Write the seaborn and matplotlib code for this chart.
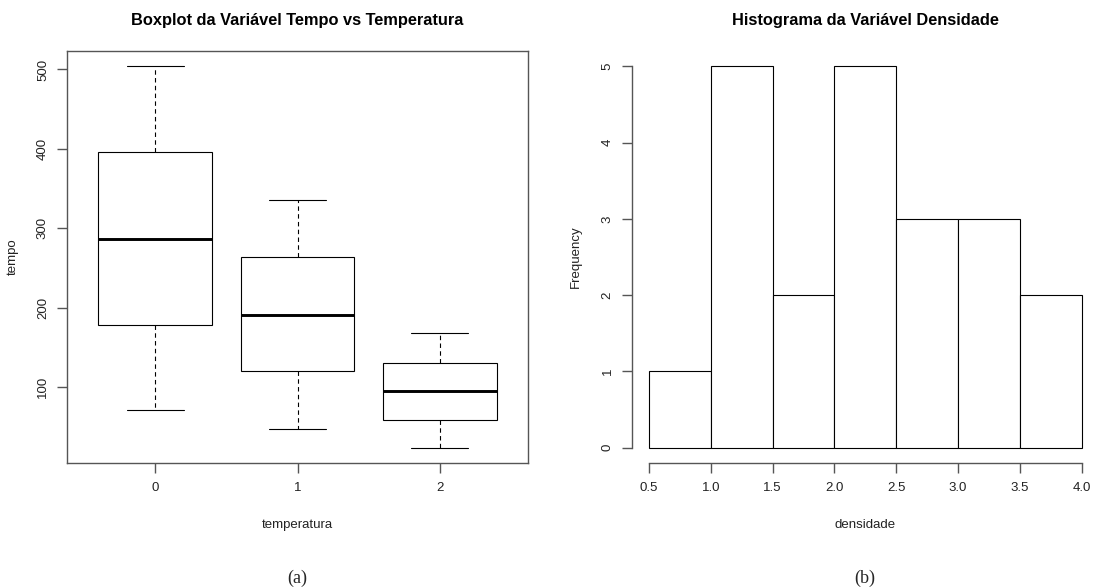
import numpy as np
import pandas as pd
import matplotlib
matplotlib.use("Agg")
import matplotlib.pyplot as plt
import seaborn as sns

# ---- data ----
temperatura_levels = ["0", "1", "2"]
tempo_temp0 = [72, 179, 287, 396, 504]
tempo_temp1 = [47, 120, 191, 264, 336]
tempo_temp2 = [24, 59, 95, 131, 168]

densidade_edges = [0.5, 1.0, 1.5, 2.0, 2.5, 3.0, 3.5, 4.0]
densidade_counts = [1, 5, 2, 5, 3, 3, 2]

box_yticks = [100, 200, 300, 400, 500]
hist_yticks = [0, 1, 2, 3, 4, 5]

# ---- styling ----
sns.set_style("ticks")
plt.rcParams["font.family"] = ["Liberation Sans", "DejaVu Sans"]
AX_COL = "#555555"
TXT_COL = "#222222"
LW = 0.8

fig = plt.figure(figsize=(10.97, 5.87), dpi=100)
W, H = 1097, 587

def frac_axes(x0, y0, x1, y1):
    return fig.add_axes([x0 / W, 1 - y1 / H, (x1 - x0) / W, (y1 - y0) / H])

# ---------------- Boxplot ----------------
ax1 = frac_axes(67, 51, 528, 463)
df = pd.DataFrame({
    "temperatura": (["0"] * len(tempo_temp0) + ["1"] * len(tempo_temp1)
                    + ["2"] * len(tempo_temp2)),
    "tempo": tempo_temp0 + tempo_temp1 + tempo_temp2,
})
sns.boxplot(data=df, x="temperatura", y="tempo", order=temperatura_levels,
            ax=ax1, width=0.8, color="white", linecolor="black", linewidth=LW,
            showfliers=False, whis=1.5,
            whiskerprops=dict(linestyle=(0, (4, 3)), linewidth=LW),
            medianprops=dict(linewidth=2.1, color="black"),
            capprops=dict(linewidth=LW))
ax1.set_xlim(-0.62, 2.62)
ax1.set_ylim(4.8, 523.2)
ax1.set_yticks(box_yticks)
ax1.set_yticklabels([str(v) for v in box_yticks], rotation=90, va="center")
for s in ax1.spines.values():
    s.set_visible(True)
    s.set_color(AX_COL)
    s.set_linewidth(1)
ax1.tick_params(axis="both", length=7, width=1, color=AX_COL,
                labelsize=9.5, labelcolor=TXT_COL, direction="out")
ax1.tick_params(axis="x", pad=7)
ax1.tick_params(axis="y", pad=6)
ax1.set_xlabel("temperatura", fontsize=9.5, color=TXT_COL, labelpad=18)
ax1.set_ylabel("tempo", fontsize=9.5, color=TXT_COL, labelpad=13)
ax1.set_title("Boxplot da Variável Tempo vs Temperatura", fontsize=11.8,
              fontweight="bold", color="black", pad=18.5)

# ---------------- Histogram ----------------
ax2 = frac_axes(631.7, 51, 1099, 463)
mids = [(a + b) / 2 for a, b in zip(densidade_edges[:-1], densidade_edges[1:])]
sns.histplot(x=mids, weights=densidade_counts, bins=densidade_edges, ax=ax2,
             color="white", edgecolor="black", linewidth=LW, alpha=1)
ax2.set_xlim(0.36, 4.14)
ax2.set_ylim(-0.2, 5.2)
ax2.set_xticks(densidade_edges)
ax2.set_xticklabels([f"{v:.1f}" for v in densidade_edges])
ax2.set_yticks(hist_yticks)
ax2.set_yticklabels([str(v) for v in hist_yticks], rotation=90, va="center")
ax2.spines["top"].set_visible(False)
ax2.spines["right"].set_visible(False)
ax2.spines["left"].set_bounds(0, 5)
ax2.spines["bottom"].set_bounds(0.5, 4.0)
for k in ("left", "bottom"):
    ax2.spines[k].set_color(AX_COL)
    ax2.spines[k].set_linewidth(1)
ax2.tick_params(axis="both", length=7, width=1, color=AX_COL,
                labelsize=9.5, labelcolor=TXT_COL, direction="out")
ax2.tick_params(axis="x", pad=7)
ax2.tick_params(axis="y", pad=6)
ax2.set_xlabel("densidade", fontsize=9.5, color=TXT_COL, labelpad=18)
ax2.set_ylabel("Frequency", fontsize=9.5, color=TXT_COL, labelpad=14)
ax2.set_title("Histograma da Variável Densidade", fontsize=11.8,
              fontweight="bold", color="black", pad=18.5)

# ---- panel captions ----
fig.text(297 / W, 1 - 578 / H, "(a)", ha="center", va="center",
         fontsize=13, family=["Liberation Serif", "DejaVu Serif"])
fig.text(865 / W, 1 - 578 / H, "(b)", ha="center", va="center",
         fontsize=13, family=["Liberation Serif", "DejaVu Serif"])

fig.savefig("out.png", dpi=100, facecolor="white")
